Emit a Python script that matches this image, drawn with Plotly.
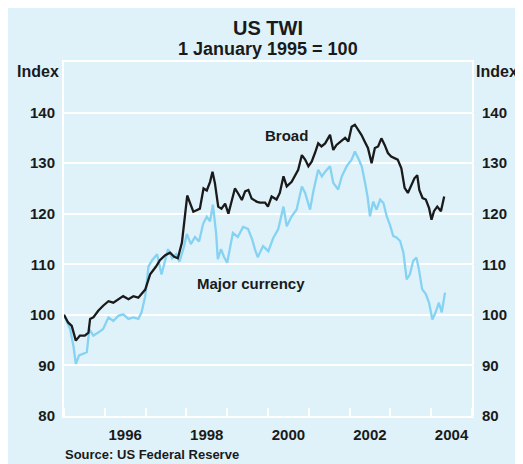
import datetime as dt

import plotly.graph_objects as go

# ── Data (time as decimal years) ─────────────────────────────────────────────

broad_t = [
    1995.00, 1995.10, 1995.19, 1995.29, 1995.39, 1995.51, 1995.60, 1995.64, 1995.72, 1995.84,
    1995.96, 1996.09, 1996.21, 1996.33, 1996.45, 1996.58, 1996.70, 1996.82, 1996.90, 1996.99,
    1997.07, 1997.11, 1997.25, 1997.35, 1997.48, 1997.60, 1997.70, 1997.79, 1997.89, 1997.97,
    1998.02, 1998.09, 1998.17, 1998.25, 1998.33, 1998.42, 1998.50, 1998.58, 1998.64, 1998.70,
    1998.78, 1998.86, 1998.95, 1999.03, 1999.11, 1999.19, 1999.27, 1999.36, 1999.44, 1999.52,
    1999.60, 1999.72, 1999.80, 1999.93, 2000.00, 2000.09, 2000.21, 2000.29, 2000.38, 2000.46,
    2000.58, 2000.66, 2000.74, 2000.83, 2000.91, 2000.99, 2001.07, 2001.15, 2001.23, 2001.31,
    2001.40, 2001.52, 2001.60, 2001.68, 2001.76, 2001.89, 2001.97, 2002.05, 2002.13, 2002.21,
    2002.29, 2002.37, 2002.45, 2002.54, 2002.62, 2002.70, 2002.78, 2002.86, 2002.94, 2003.02,
    2003.10, 2003.18, 2003.27, 2003.35, 2003.43, 2003.51, 2003.59, 2003.66, 2003.71, 2003.79,
    2003.87, 2003.95, 2004.01, 2004.07, 2004.15, 2004.24, 2004.32,
]
broad = [
    100.0, 98.5, 97.8, 94.9, 95.9, 95.9, 96.5, 99.2, 99.5, 100.8,
    101.8, 102.7, 102.4, 103.1, 103.7, 103.1, 103.7, 103.4, 104.1, 105.0,
    107.0, 108.0, 109.5, 110.8, 111.8, 112.3, 111.5, 111.2, 114.3, 119.4,
    123.6, 122.1, 120.4, 120.7, 121.0, 125.0, 124.6, 126.3, 128.3, 126.0,
    121.4, 121.0, 122.0, 120.0, 122.7, 125.0, 124.0, 122.7, 124.4, 124.7,
    123.0, 122.4, 122.2, 122.2, 121.4, 123.4, 122.8, 124.1, 127.4, 125.4,
    126.3, 127.4, 128.7, 131.6, 130.7, 129.4, 130.3, 132.0, 133.9, 133.3,
    133.9, 135.6, 132.6, 133.6, 134.2, 135.0, 134.3, 137.2, 137.6, 136.6,
    135.6, 134.3, 133.0, 130.0, 133.0, 133.3, 134.9, 133.6, 132.0, 131.3,
    131.0, 130.7, 129.0, 125.1, 124.1, 125.4, 127.0, 127.6, 124.7, 123.1,
    122.8, 121.1, 118.8, 120.5, 121.4, 120.5, 123.4,
]

major_t = [
    1995.00, 1995.15, 1995.23, 1995.29, 1995.37, 1995.47, 1995.56, 1995.62, 1995.72, 1995.84,
    1995.96, 1996.09, 1996.21, 1996.33, 1996.45, 1996.58, 1996.70, 1996.82, 1996.90, 1996.99,
    1997.07, 1997.16, 1997.28, 1997.39, 1997.55, 1997.65, 1997.75, 1997.83, 1997.94, 1998.01,
    1998.11, 1998.21, 1998.31, 1998.41, 1998.50, 1998.58, 1998.65, 1998.73, 1998.77, 1998.85,
    1998.92, 1999.00, 1999.07, 1999.14, 1999.26, 1999.39, 1999.51, 1999.61, 1999.68, 1999.75,
    1999.88, 2000.01, 2000.13, 2000.25, 2000.38, 2000.46, 2000.58, 2000.70, 2000.83, 2000.91,
    2001.03, 2001.11, 2001.23, 2001.32, 2001.40, 2001.52, 2001.60, 2001.72, 2001.81, 2001.93,
    2002.05, 2002.13, 2002.21, 2002.30, 2002.38, 2002.44, 2002.50, 2002.58, 2002.66, 2002.75,
    2002.83, 2002.91, 2002.99, 2003.07, 2003.15, 2003.24, 2003.32, 2003.40, 2003.48, 2003.56,
    2003.64, 2003.70, 2003.78, 2003.87, 2003.95, 2004.03, 2004.11, 2004.19, 2004.26, 2004.34,
]
major = [
    100.0, 97.2, 93.9, 90.3, 92.0, 92.3, 92.6, 97.2, 95.9, 96.5,
    97.2, 99.5, 98.8, 99.8, 100.1, 99.2, 99.5, 99.2, 100.5, 103.7,
    109.6, 110.8, 112.0, 108.0, 113.0, 111.2, 112.0, 110.5, 113.5, 116.0,
    114.0, 115.4, 114.5, 118.0, 119.4, 118.5, 121.8, 116.0, 111.0, 113.0,
    111.5, 110.3, 113.0, 116.2, 115.4, 117.4, 117.0, 115.0, 113.0, 111.4,
    113.6, 112.6, 115.2, 116.9, 121.4, 117.5, 119.5, 120.8, 125.4, 124.1,
    120.8, 124.4, 128.7, 127.4, 128.3, 129.4, 126.1, 124.8, 127.4, 129.4,
    130.7, 132.3, 131.0, 129.3, 126.1, 123.4, 119.5, 122.4, 120.8, 122.8,
    122.1, 119.5, 117.8, 115.6, 115.3, 114.6, 112.3, 107.0, 108.0, 110.7,
    111.3, 109.0, 105.1, 104.1, 102.4, 99.1, 100.5, 102.4, 100.5, 104.4,
]

year_labels = ["1996", "1998", "2000", "2002", "2004"]
y_ticks = [80, 90, 100, 110, 120, 130, 140]

BG = "#dff2fa"
BLUE = "#86d2f2"
INK = "#1a1a1a"
FONT = "Liberation Sans, Arial, sans-serif"

# the page body adds an 8px offset, so the figure is 8px smaller each way
W, H = 515, 456
L, R, T, B = 56, 51, 54, 48
PW, PH = W - L - R, H - T - B


def to_date(t):
    year = int(t)
    start = dt.datetime(year, 1, 1)
    days = (dt.datetime(year + 1, 1, 1) - start).days
    return start + dt.timedelta(days=(t - year) * days)


def px_x(x):
    return (x - L) / PW


def px_y(y):
    return (H - B - y) / PH


fig = go.Figure()
fig.add_trace(go.Scatter(x=[to_date(t) for t in major_t], y=major, mode="lines",
                         line=dict(color=BLUE, width=2.3), showlegend=False))
fig.add_trace(go.Scatter(x=[to_date(t) for t in broad_t], y=broad, mode="lines",
                         line=dict(color=INK, width=2.3), showlegend=False))
# invisible trace to carry the right-hand axis
fig.add_trace(go.Scatter(x=[to_date(1995.0)], y=[100], yaxis="y2", mode="lines",
                         line=dict(width=0), showlegend=False, hoverinfo="skip"))

axis_font = dict(family=FONT, size=15, color=INK)

fig.update_layout(
    width=W, height=H,
    paper_bgcolor=BG, plot_bgcolor=BG,
    margin=dict(l=L, r=R, t=T, b=B),
    font=dict(family=FONT, color=INK),
    xaxis=dict(
        range=[to_date(1995.0), to_date(2005.0)],
        tickvals=[f"{y}-07-02" for y in year_labels],
        ticktext=[f"<b>{y}</b>" for y in year_labels],
        ticks="outside", ticklen=4, tickcolor=BG,
        showgrid=False, tickfont=axis_font,
        showline=True, linecolor="white", linewidth=2, mirror=True,
        minor=dict(ticks="inside", dtick="M12", tick0="1995-01-01",
                   ticklen=8, tickcolor="white", tickwidth=2, showgrid=False),
        zeroline=False,
    ),
    yaxis=dict(
        range=[80, 150], tickvals=y_ticks,
        ticktext=[f"<b>{v}</b>" for v in y_ticks],
        tickfont=axis_font, ticks="outside", ticklen=4, tickcolor=BG,
        showgrid=True, gridcolor="white", gridwidth=2,
        showline=True, linecolor="white", linewidth=2, mirror=True,
        zeroline=False,
    ),
    yaxis2=dict(
        range=[80, 150], tickvals=y_ticks,
        ticktext=[f"<b>{v}</b>" for v in y_ticks],
        tickfont=axis_font, overlaying="y", side="right",
        showgrid=False, zeroline=False, ticks="outside", ticklen=6, tickcolor=BG,
    ),
    annotations=[
        dict(text="<b>US TWI</b>", x=0.5, y=px_y(20), yanchor="middle",
             font=dict(size=20)),
        dict(text="<b>1 January 1995 = 100</b>", x=0.5, y=px_y(41), yanchor="middle",
             font=dict(size=18)),
        dict(text="<b>Index</b>", x=px_x(30), y=px_y(64), yanchor="middle",
             font=dict(size=16)),
        dict(text="<b>Index</b>", x=px_x(489), y=px_y(64), yanchor="middle",
             font=dict(size=16)),
        dict(text="<b>Source: US Federal Reserve</b>", x=px_x(55), y=px_y(446),
             xanchor="left", yanchor="middle", font=dict(size=13)),
        dict(text="<b>Broad</b>", x="2000-06-15", y=135.5, xref="x", yref="y",
             font=dict(size=15)),
        dict(text="<b>Major currency</b>", x="1999-08-01", y=106.2, xref="x", yref="y",
             font=dict(size=15)),
    ],
)
for a in fig.layout.annotations[:5]:
    a.update(xref="paper", yref="paper")
for a in fig.layout.annotations[:4]:
    a.update(xanchor="center")
fig.update_annotations(showarrow=False)

fig.write_html("out.html")
